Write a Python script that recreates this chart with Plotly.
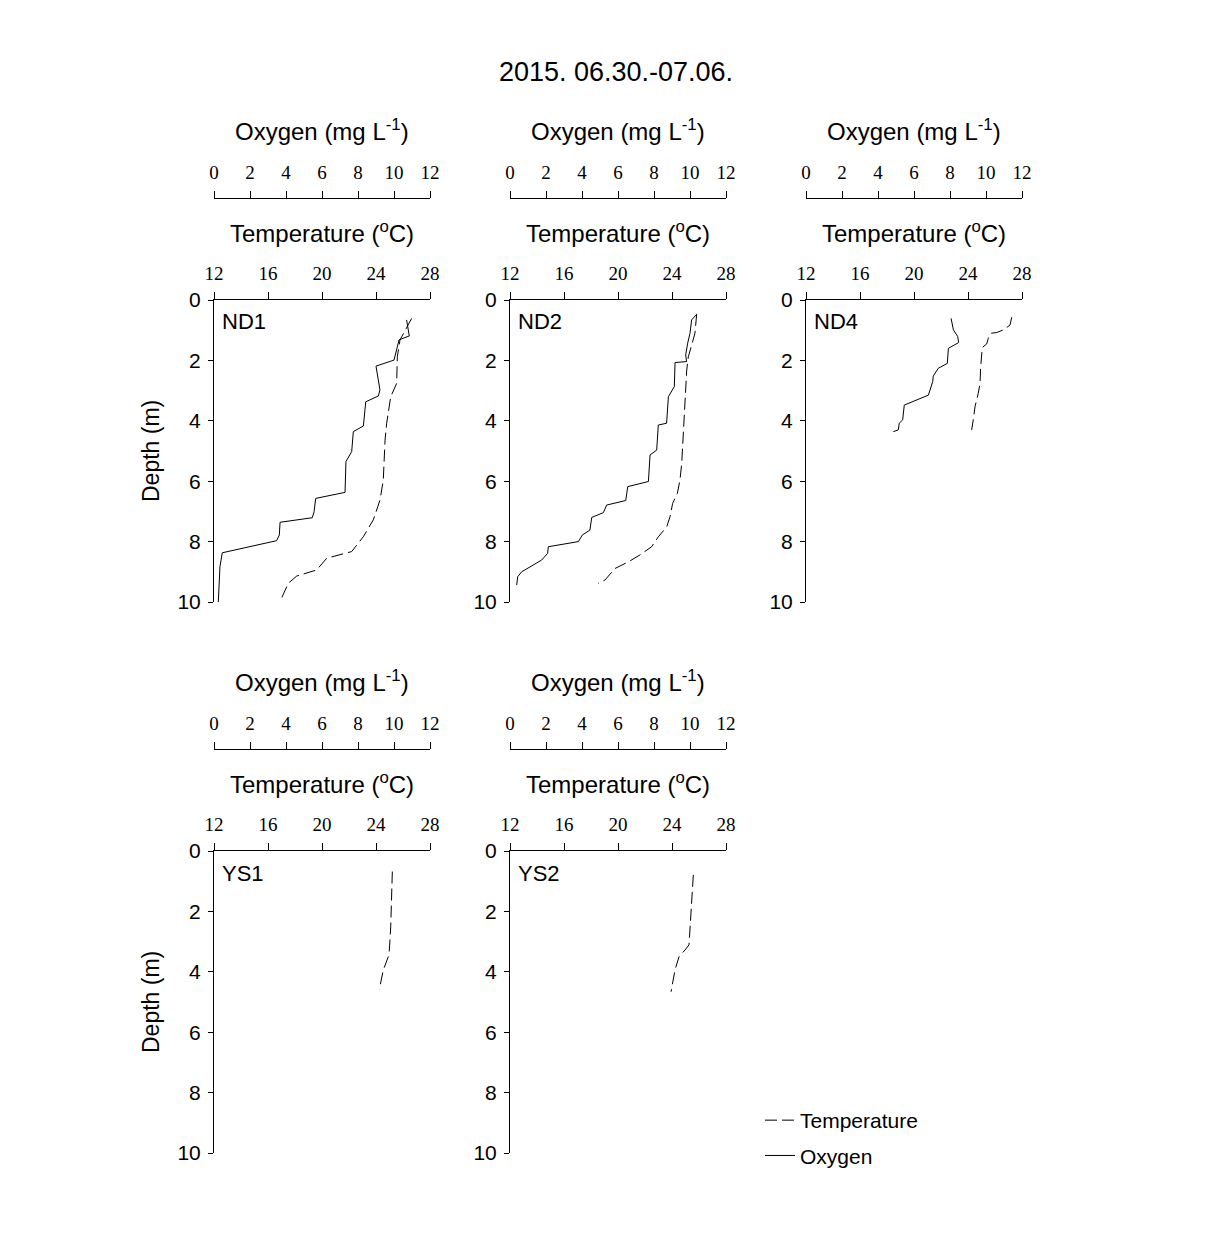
import plotly.graph_objects as go

# ---- data (depth in m) ----
nd1_temp_depth = [0.61, 1.32, 1.88, 2.76, 3.20, 4.08, 4.64, 5.96, 6.62, 7.28, 7.84, 8.33, 8.55, 8.94, 9.14, 9.38, 9.99]
nd1_temp = [26.64, 25.78, 25.58, 25.53, 25.09, 24.79, 24.67, 24.54, 24.30, 23.80, 23.06, 22.20, 20.35, 19.60, 18.13, 17.50, 16.89]
nd1_oxy_depth = [0.66, 1.19, 1.32, 1.99, 2.19, 2.98, 3.18, 3.37, 4.17, 4.36, 5.02, 5.35, 6.37, 6.57, 7.01, 7.21, 7.36, 7.78, 7.97, 8.37, 8.83, 10.0]
nd1_oxy = [10.70, 10.85, 10.28, 10.00, 9.00, 9.22, 9.13, 8.43, 8.30, 7.74, 7.65, 7.33, 7.28, 5.65, 5.56, 5.46, 3.67, 3.63, 3.48, 0.46, 0.33, 0.24]

nd2_temp_depth = [0.46, 1.10, 1.49, 1.88, 2.32, 2.98, 4.08, 5.41, 5.96, 6.40, 6.73, 7.18, 7.51, 7.84, 8.17, 8.44, 8.67, 8.89, 9.27, 9.38]
nd2_temp = [25.83, 25.70, 25.46, 25.21, 25.09, 25.01, 24.89, 24.72, 24.59, 24.40, 24.05, 23.85, 23.61, 22.99, 22.49, 21.63, 20.77, 19.78, 19.04, 18.54]
nd2_oxy_depth = [0.50, 0.66, 1.10, 1.43, 1.82, 2.04, 2.07, 2.87, 3.20, 4.08, 4.14, 4.97, 5.13, 6.01, 6.18, 6.64, 6.79, 7.04, 7.20, 7.62, 7.78, 8.00, 8.17, 8.39, 8.61, 9.00, 9.16, 9.44]
nd2_oxy = [10.33, 10.09, 10.00, 9.87, 9.76, 9.81, 9.17, 9.13, 8.80, 8.70, 8.24, 8.15, 7.78, 7.69, 6.54, 6.43, 5.37, 5.19, 4.54, 4.44, 4.02, 3.80, 2.13, 2.09, 1.76, 0.65, 0.43, 0.37]

nd4_temp_depth = [0.57, 0.83, 0.99, 1.08, 1.10, 1.27, 1.46, 1.57, 2.21, 2.76, 3.09, 3.53, 3.97, 4.30]
nd4_temp = [27.24, 27.11, 26.62, 26.12, 25.70, 25.50, 25.38, 25.06, 24.94, 24.89, 24.76, 24.52, 24.39, 24.27]
nd4_oxy_depth = [0.61, 0.99, 1.21, 1.41, 1.60, 2.10, 2.26, 2.52, 2.70, 3.15, 3.48, 3.97, 4.08, 4.30, 4.36]
nd4_oxy = [8.06, 8.19, 8.43, 8.48, 7.91, 7.85, 7.35, 7.07, 7.04, 6.80, 5.46, 5.37, 5.18, 5.13, 4.85]

ys1_temp_depth = [0.68, 1.62, 2.51, 3.28, 3.50, 3.94, 4.58]
ys1_temp = [25.21, 25.16, 25.09, 24.99, 24.91, 24.54, 24.25]
ys1_oxy_depth = []
ys1_oxy = []

ys2_temp_depth = [0.79, 1.84, 2.62, 3.11, 3.28, 3.50, 3.94, 4.66]
ys2_temp = [25.58, 25.46, 25.33, 25.26, 24.96, 24.52, 24.22, 23.93]
ys2_oxy_depth = []
ys2_oxy = []

stations = ["ND1", "ND2", "ND4", "YS1", "YS2"]
temp_ticks = [12, 16, 20, 24, 28]
oxy_ticks = [0, 2, 4, 6, 8, 10, 12]
depth_ticks = [0, 2, 4, 6, 8, 10]

profiles = {
    "ND1": (nd1_temp_depth, nd1_temp, nd1_oxy_depth, nd1_oxy),
    "ND2": (nd2_temp_depth, nd2_temp, nd2_oxy_depth, nd2_oxy),
    "ND4": (nd4_temp_depth, nd4_temp, nd4_oxy_depth, nd4_oxy),
    "YS1": (ys1_temp_depth, ys1_temp, ys1_oxy_depth, ys1_oxy),
    "YS2": (ys2_temp_depth, ys2_temp, ys2_oxy_depth, ys2_oxy),
}

# ---- page geometry (pixels, page coords; the page body adds an 8px margin) ----
OFF = 8
W, H = 1206 - 2 * OFF, 1256 - 2 * OFF
def px(x):
    return (x - OFF) / W
def py(y):
    return 1 - (y - OFF) / H

# panel left edge, top of depth axis
panel_pos = {"ND1": (214, 300), "ND2": (510, 300), "ND4": (806, 300),
             "YS1": (214, 851), "YS2": (510, 851)}
PW, PH = 216, 302
SANS = "Liberation Sans, Arial, sans-serif"
SERIF = "Liberation Serif, Times New Roman, serif"

fig = go.Figure()
layout = {}
annotations = []

for i, st in enumerate(stations, start=1):
    x0, y0 = panel_pos[st]
    kt, ko = 2 * i - 1, 2 * i
    xt = "x" if kt == 1 else "x%d" % kt
    xo = "x%d" % ko
    yy = "y" if i == 1 else "y%d" % i
    td, tv, od, ov = profiles[st]

    fig.add_trace(go.Scatter(x=tv, y=td, xaxis=xt, yaxis=yy, mode="lines",
                             name="Temperature", legendgroup="t", showlegend=(i == 1),
                             line=dict(color="black", width=1, dash="12px,5px")))
    fig.add_trace(go.Scatter(x=ov, y=od, xaxis=xo, yaxis=yy, mode="lines",
                             name="Oxygen", legendgroup="o", showlegend=(i == 1),
                             line=dict(color="black", width=1)))

    dom = [px(x0), px(x0 + PW)]
    layout["xaxis" if kt == 1 else "xaxis%d" % kt] = dict(
        domain=dom, range=[12, 28], side="top", anchor=yy, automargin=False,
        tickvals=temp_ticks, ticks="outside", ticklen=7, tickcolor="black",
        ticklabelstandoff=4,
        showline=True, linecolor="black", linewidth=1, showgrid=False, zeroline=False,
        tickfont=dict(family=SERIF, size=19, color="black"))
    oxy_line = y0 - 102
    layout["xaxis%d" % ko] = dict(
        domain=dom, range=[0, 12], side="top", overlaying=xt, anchor="free",
        position=py(oxy_line), automargin=False,
        tickvals=oxy_ticks, ticks="outside", ticklen=7, tickcolor="black",
        ticklabelstandoff=4,
        showline=True, linecolor="black", linewidth=1, showgrid=False, zeroline=False,
        tickfont=dict(family=SERIF, size=19, color="black"))
    layout["yaxis" if i == 1 else "yaxis%d" % i] = dict(
        domain=[py(y0 + PH), py(y0)], range=[10, 0], anchor=xt, automargin=False,
        tickvals=depth_ticks, ticks="outside", ticklen=5, tickcolor="black",
        ticklabelstandoff=3,
        showline=True, linecolor="black", linewidth=1, showgrid=False, zeroline=False,
        tickfont=dict(family=SANS, size=21, color="black"))

    cx = x0 + PW / 2
    annotations.append(dict(text="Oxygen (mg L<sup>-1</sup>)", x=px(cx), y=py(y0 - 170),
                            xanchor="center", yanchor="middle",
                            xref="paper", yref="paper", showarrow=False,
                            font=dict(family=SANS, size=24, color="black")))
    annotations.append(dict(text="Temperature (<sup>o</sup>C)", x=px(cx), y=py(y0 - 68),
                            xanchor="center", yanchor="middle",
                            xref="paper", yref="paper", showarrow=False,
                            font=dict(family=SANS, size=24, color="black")))
    annotations.append(dict(text=st, x=px(x0 + 6), y=py(y0 + 22), xanchor="left",
                            yanchor="middle",
                            xref="paper", yref="paper", showarrow=False,
                            font=dict(family=SANS, size=22, color="black")))

for yc in (451, 1002):
    annotations.append(dict(text="Depth (m)", x=px(151), y=py(yc), textangle=-90,
                            xanchor="center", yanchor="middle",
                            xref="paper", yref="paper", showarrow=False,
                            font=dict(family=SANS, size=23, color="black")))

fig.update_layout(**layout)
fig.update_layout(
    width=W, height=H,
    margin=dict(l=0, r=0, t=0, b=0),
    plot_bgcolor="white", paper_bgcolor="white",
    title=dict(text="2015. 06.30.-07.06.", x=px(616), y=py(72), xanchor="center",
               yanchor="middle", automargin=False,
               font=dict(family=SANS, size=27, color="black")),
    annotations=annotations,
    legend=dict(x=px(760), y=py(1100), xanchor="left", yanchor="top",
                font=dict(family=SANS, size=21, color="black"),
                tracegroupgap=5, bgcolor="rgba(0,0,0,0)"),
)

fig.write_html("out.html")
